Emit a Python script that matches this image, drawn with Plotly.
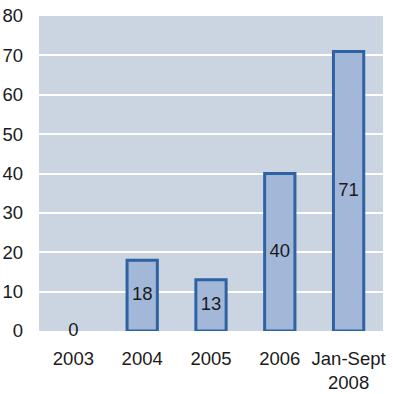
import plotly.graph_objects as go

categories = ["2003", "2004", "2005", "2006", "Jan-Sept<br>2008"]
values = [0, 18, 13, 40, 71]
label_text = [str(v) for v in values]
y_ticks = [0, 10, 20, 30, 40, 50, 60, 70, 80]

FONT = "Liberation Sans, Arial, sans-serif"
FS = 18.5

fig = go.Figure()
fig.add_trace(go.Bar(
    x=categories, y=values, width=0.44,
    marker=dict(color="#a3b8d8",
                line=dict(color="#2e62a3", width=[3 if v > 0 else 0 for v in values])),
    hoverinfo="skip",
))
fig.add_trace(go.Scatter(
    x=categories, y=[v / 2 for v in values], mode="text",
    text=label_text, textposition="middle center",
    textfont=dict(family=FONT, size=FS, color="#1a1a1a"),
    hoverinfo="skip", cliponaxis=False,
))
fig.update_layout(
    width=393, height=394,
    margin=dict(l=39, r=10, t=16, b=63, autoexpand=False),
    paper_bgcolor="white", plot_bgcolor="#cbd5e1",
    showlegend=False,
    font=dict(family=FONT, size=FS, color="#1a1a1a"),
)
fig.update_xaxes(showgrid=False, showline=False, zeroline=False, automargin=False,
                 ticks="", ticklabelstandoff=14, tickfont=dict(size=FS))
fig.update_yaxes(range=[0, 80], tickvals=y_ticks, showgrid=True, automargin=False,
                 gridcolor="white", gridwidth=2, zeroline=False,
                 showline=False, ticks="", ticklabelstandoff=15,
                 tickfont=dict(size=FS))
fig.write_html("out.html", config={"displayModeBar": False},
               post_script="document.body.style.margin='0';document.body.style.overflow='hidden';")
